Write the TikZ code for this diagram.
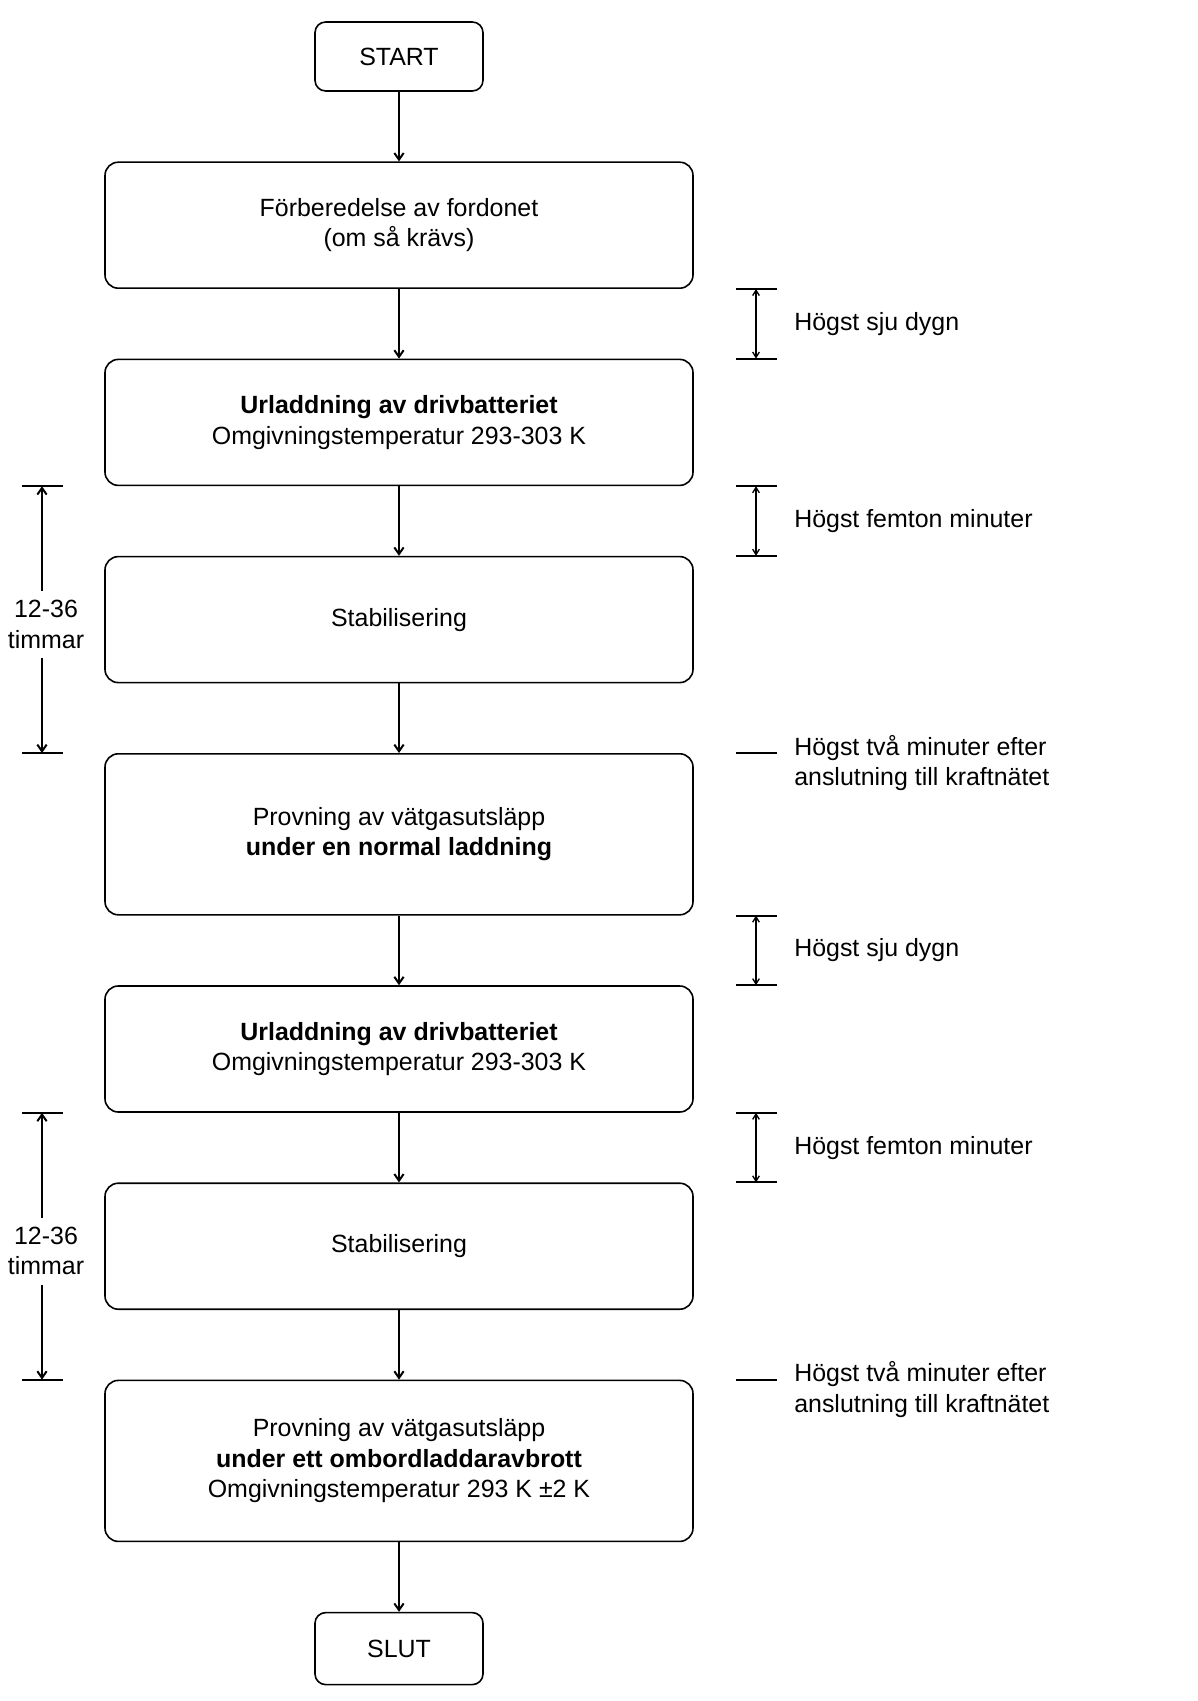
\documentclass[tikz,border=0pt]{standalone}
\usepackage{fontspec}
\setmainfont{Liberation Sans}
\usetikzlibrary{arrows.meta,calc,positioning}

\begin{document}
\begin{tikzpicture}[
  x=0.75pt, y=-0.75pt,
  font=\fontsize{18.7pt}{22.8pt}\selectfont,
  >={Straight Barb[length=5pt,width=7pt]},
  edge/.style={->,line width=1.5pt},
  span/.style={<->,line width=1pt,>={Straight Barb[length=4pt,width=5pt]}},
  tick/.style={line width=1.5pt},
  stage/.style={draw,line width=1.2pt,rounded corners=10pt,align=center,
                minimum width=441pt,minimum height=94.5pt},
  longstage/.style={stage,minimum height=120.75pt},
  term/.style={draw,line width=1.2pt,rounded corners=8pt,align=center,
               minimum width=126pt,minimum height=51.75pt},
  note/.style={anchor=west,align=left,inner sep=0pt},
  hours/.style={align=center,inner xsep=0pt,inner ysep=7pt},
  node distance=52.2pt
]
\useasboundingbox (0,0) rectangle (1197,1701);

% flow
\node[term] (start) at (399,56.5) {START};
\node[stage,below=of start] (prep) {Förberedelse av fordonet\\(om så krävs)};
\node[stage,below=of prep] (dis1)
  {\textbf{Urladdning av drivbatteriet}\\Omgivningstemperatur 293-303 K};
\node[stage,below=of dis1] (stab1) {Stabilisering};
\node[longstage,below=of stab1] (test1)
  {Provning av vätgasutsläpp\\\textbf{under en normal laddning}};
\node[stage,below=of test1] (dis2)
  {\textbf{Urladdning av drivbatteriet}\\Omgivningstemperatur 293-303 K};
\node[stage,below=of dis2] (stab2) {Stabilisering};
\node[longstage,below=of stab2] (test2)
  {Provning av vätgasutsläpp\\\textbf{under ett ombordladdaravbrott}\\
   Omgivningstemperatur 293 K ±2 K};
\node[term,below=of test2,minimum height=54pt] (stop) {SLUT};

\draw[edge] (start) -- (prep);
\draw[edge] (prep) -- (dis1);
\draw[edge] (dis1) -- (stab1);
\draw[edge] (stab1) -- (test1);
\draw[edge] (test1) -- (dis2);
\draw[edge] (dis2) -- (stab2);
\draw[edge] (stab2) -- (test2);
\draw[edge] (test2) -- (stop);

% columns for the time marks
\coordinate (rl) at (736,0);
\coordinate (rm) at (756,0);
\coordinate (rr) at (777,0);
\coordinate (ll) at (22,0);
\coordinate (lm) at (42,0);
\coordinate (lr) at (63,0);

% right: limits between steps
\coordinate (a1) at (prep.south -| rm);
\coordinate (b1) at (dis1.north -| rm);
\draw[tick] (a1 -| rl) -- (a1 -| rr);
\draw[tick] (b1 -| rl) -- (b1 -| rr);
\draw[span] (a1) -- (b1);
\node[note] (lim1) at ($(a1)!.5!(b1)+(38,0)$) {Högst sju dygn};

\coordinate (a2) at (dis1.south -| rm);
\coordinate (b2) at (stab1.north -| rm);
\draw[tick] (a2 -| rl) -- (a2 -| rr);
\draw[tick] (b2 -| rl) -- (b2 -| rr);
\draw[span] (a2) -- (b2);
\node[note] (lim2) at ($(a2)!.5!(b2)+(38,0)$) {Högst femton minuter};

\coordinate (c1) at (test1.north -| rm);
\draw[tick] (c1 -| rl) -- (c1 -| rr);
\node[note] (lim3) at ($(c1)+(38,10)$)
  {Högst två minuter efter\\anslutning till kraftnätet};

\coordinate (a3) at (test1.south -| rm);
\coordinate (b3) at (dis2.north -| rm);
\draw[tick] (a3 -| rl) -- (a3 -| rr);
\draw[tick] (b3 -| rl) -- (b3 -| rr);
\draw[span] (a3) -- (b3);
\node[note] (lim4) at ($(a3)!.5!(b3)+(38,0)$) {Högst sju dygn};

\coordinate (a4) at (dis2.south -| rm);
\coordinate (b4) at (stab2.north -| rm);
\draw[tick] (a4 -| rl) -- (a4 -| rr);
\draw[tick] (b4 -| rl) -- (b4 -| rr);
\draw[span] (a4) -- (b4);
\node[note] (lim5) at ($(a4)!.5!(b4)+(38,0)$) {Högst femton minuter};

\coordinate (c2) at (test2.north -| rm);
\draw[tick] (c2 -| rl) -- (c2 -| rr);
\node[note] (lim6) at ($(c2)+(38,10)$)
  {Högst två minuter efter\\anslutning till kraftnätet};

% left: stabilisation time
\coordinate (d1) at (dis1.south -| lm);
\coordinate (e1) at (test1.north -| lm);
\draw[tick] (d1 -| ll) -- (d1 -| lr);
\draw[tick] (e1 -| ll) -- (e1 -| lr);
\node[hours] (dur1) at ($(d1)!.5!(e1)+(4,5)$) {12-36\\timmar};
\draw[edge] (dur1.north -| d1) -- (d1);
\draw[edge] (dur1.south -| e1) -- (e1);

\coordinate (d2) at (dis2.south -| lm);
\coordinate (e2) at (test2.north -| lm);
\draw[tick] (d2 -| ll) -- (d2 -| lr);
\draw[tick] (e2 -| ll) -- (e2 -| lr);
\node[hours] (dur2) at ($(d2)!.5!(e2)+(4,5)$) {12-36\\timmar};
\draw[edge] (dur2.north -| d2) -- (d2);
\draw[edge] (dur2.south -| e2) -- (e2);
\end{tikzpicture}
\end{document}
